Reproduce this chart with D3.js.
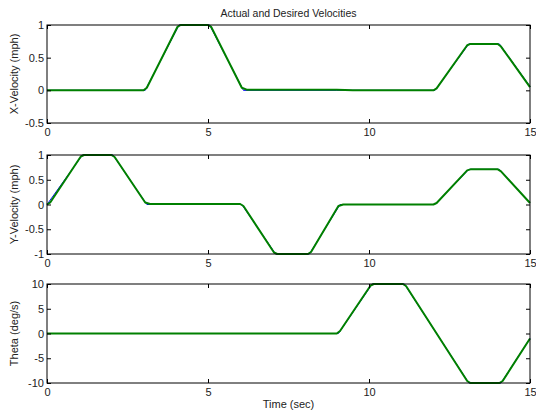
<!DOCTYPE html>
<html>
<head>
<meta charset="utf-8">
<script src="https://cdn.jsdelivr.net/npm/d3@7"></script>
<style>
  html, body { margin: 0; padding: 0; background: #fff; }
  svg { display: block; }
  text { font-family: "Liberation Sans", Arial, sans-serif; fill: #222; }
</style>
</head>
<body>
<svg id="chart" width="536" height="413"></svg>
<script>
// Time axis
const timeTicks = [0, 5, 10, 15];

// X velocity (mph): desired profile and measured response
const xDesiredT = [0, 3.05, 4.1, 5.05, 6.1, 9.0, 9.5, 12.05, 13.1, 14.05, 15];
const xDesiredV = [0, 0, 1, 1, 0, 0, 0, 0, 0.71, 0.71, 0.06];
const xActualT = [0, 3.0, 3.1, 4.05, 4.15, 5.0, 5.1, 6.05, 6.2, 9.0, 9.5, 10.0, 12.0, 12.1, 13.05, 13.15, 14.0, 14.1, 15.0];
const xActualV = [0, 0, 0.04, 0.97, 1, 1, 0.97, 0.04, 0.01, 0.01, 0.0, 0.0, 0.0, 0.03, 0.69, 0.71, 0.71, 0.67, 0.05];
const xTicks = [-0.5, 0, 0.5, 1];

// Y velocity (mph)
const yDesiredT = [0, 1.1, 2.05, 3.1, 6.05, 7.1, 8.15, 9.1, 12.05, 13.1, 14.05, 15];
const yDesiredV = [0, 1, 1, 0, 0, -1, -1, 0, 0, 0.71, 0.71, 0.03];
const yActualT = [0, 0.1, 1.05, 1.15, 2.0, 2.1, 3.05, 3.2, 6.0, 6.1, 7.05, 7.15, 8.1, 8.2, 9.05, 9.2, 12.0, 12.1, 13.05, 13.15, 14.0, 14.1, 15.0];
const yActualV = [0, 0.04, 0.97, 1, 1, 0.96, 0.04, 0.01, 0.01, -0.03, -0.97, -1, -1, -0.96, -0.03, 0.0, 0.0, 0.03, 0.69, 0.71, 0.71, 0.67, 0.03];
const yTicks = [-1, -0.5, 0, 0.5, 1];

// Turn rate (deg/s)
const thDesiredT = [0, 9.05, 10.1, 11.1, 13.1, 14.1, 15];
const thDesiredV = [0, 0, 10, 10, -10, -10, -1];
const thActualT = [0, 9.0, 9.1, 10.05, 10.15, 11.05, 11.15, 13.05, 13.15, 14.05, 14.15, 15.0];
const thActualV = [0, 0, 0.5, 9.7, 10, 10, 9.6, -9.6, -10, -10, -9.6, -1.0];
const thTicks = [-10, -5, 0, 5, 10];

const panels = [
  { top: 25, bottom: 123, domain: [-0.5, 1], ticks: xTicks, label: "X-Velocity (mph)",
    desired: [xDesiredT, xDesiredV], actual: [xActualT, xActualV] },
  { top: 155, bottom: 254, domain: [-1, 1], ticks: yTicks, label: "Y-Velocity (mph)",
    desired: [yDesiredT, yDesiredV], actual: [yActualT, yActualV] },
  { top: 284, bottom: 383, domain: [-10, 10], ticks: thTicks, label: "Theta (deg/s)",
    desired: [thDesiredT, thDesiredV], actual: [thActualT, thActualV] }
];

const left = 47, right = 530;
const svg = d3.select("#chart");
const x = d3.scaleLinear().domain([0, 15]).range([left, right]);
const tickLen = 4;
const fmt = v => String(v);

panels.forEach(p => {
  const y = d3.scaleLinear().domain(p.domain).range([p.bottom, p.top]);
  const g = svg.append("g");

  const line = d3.line().x(d => x(d[0])).y(d => y(d[1]));
  const pairs = (arr) => arr[0].map((t, i) => [t, arr[1][i]]);

  g.append("path").datum(pairs(p.desired))
    .attr("d", line).attr("fill", "none")
    .attr("stroke", "#0000ff").attr("stroke-width", 1);
  g.append("path").datum(pairs(p.actual))
    .attr("d", line).attr("fill", "none")
    .attr("stroke", "#008000").attr("stroke-width", 2)
    .attr("stroke-linejoin", "round");

  // Box
  g.append("rect").attr("x", left).attr("y", p.top)
    .attr("width", right - left).attr("height", p.bottom - p.top)
    .attr("fill", "none").attr("stroke", "#000").attr("stroke-width", 1);

  // Axes with inward ticks on all four sides
  const axB = d3.axisBottom(x).tickValues(timeTicks).tickSize(-tickLen).tickPadding(5).tickFormat(fmt);
  const axT = d3.axisTop(x).tickValues(timeTicks).tickSize(-tickLen).tickFormat("");
  const axL = d3.axisLeft(y).tickValues(p.ticks).tickSize(-tickLen).tickPadding(3).tickFormat(fmt);
  const axR = d3.axisRight(y).tickValues(p.ticks).tickSize(-tickLen).tickFormat("");

  const styleAxis = sel => {
    sel.select(".domain").remove();
    sel.selectAll(".tick line").attr("stroke", "#000");
    sel.selectAll(".tick text").attr("font-size", 11).attr("fill", "#222")
      .attr("font-family", "'Liberation Sans', Arial, sans-serif");
  };
  g.append("g").attr("transform", `translate(0,${p.bottom})`).call(axB).call(styleAxis);
  g.append("g").attr("transform", `translate(0,${p.top})`).call(axT).call(styleAxis);
  g.append("g").attr("transform", `translate(${left},0)`).call(axL).call(styleAxis);
  g.append("g").attr("transform", `translate(${right},0)`).call(axR).call(styleAxis);

  g.append("text")
    .attr("transform", `translate(18,${(p.top + p.bottom) / 2}) rotate(-90)`)
    .attr("text-anchor", "middle").attr("font-size", 11)
    .text(p.label);
});

svg.append("text").attr("x", (left + right) / 2).attr("y", 17)
  .attr("text-anchor", "middle").attr("font-size", 10.5)
  .text("Actual and Desired Velocities");

svg.append("text").attr("x", (left + right) / 2).attr("y", 408)
  .attr("text-anchor", "middle").attr("font-size", 11)
  .text("Time (sec)");
</script>
</body>
</html>
